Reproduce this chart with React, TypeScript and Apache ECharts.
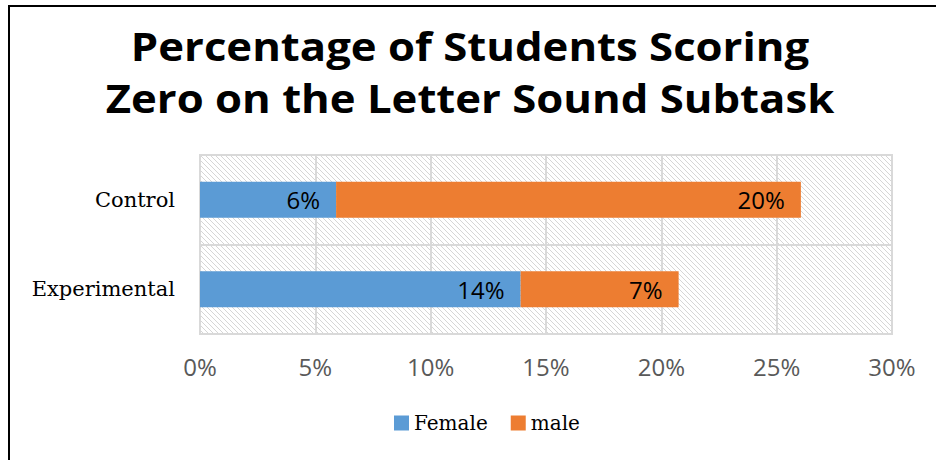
import React, { useEffect, useRef } from "react";
import * as echarts from "echarts";

const categories = ["Experimental", "Control"];
const femaleValues = [13.9, 5.9];
const maleValues = [6.85, 20.15];
const xTicks = { min: 0, max: 30, interval: 5 };
const titleText = "Percentage of Students Scoring\nZero on the Letter Sound Subtask";

const hatch =
  "data:image/svg+xml;utf8," +
  encodeURIComponent(
    "<svg xmlns='http://www.w3.org/2000/svg' width='5' height='5'><path d='M0 0L5 5M-1 4L1 6M4 -1L6 1' stroke='#d6d6d6' stroke-width='1'/></svg>"
  );

export default function App() {
  const ref = useRef<HTMLDivElement>(null);
  useEffect(() => {
    const chart = echarts.init(ref.current!, null, { renderer: "svg" });
    const labelFmt = (p: any) => Math.round(p.value) + "%";
    chart.setOption({
      animation: false,
      backgroundColor: "#ffffff",
      graphic: [
        {
          type: "text",
          x: 470,
          y: 20,
          scaleX: 1.12,
          silent: true,
          style: {
            text: titleText,
            x: 0,
            y: 0,
            align: "center",
            verticalAlign: "top",
            fontFamily: "Open Sans",
            fontWeight: "bold",
            fontSize: 39,
            lineHeight: 52,
            fill: "#000000",
          },
        },
        {
          type: "rect",
          shape: { x: 9, y: 6, width: 1000, height: 1000 },
          style: { fill: "none", stroke: "#000000", lineWidth: 2 },
          silent: true,
          z: 100,
        },
      ],
      legend: {
        left: 389,
        top: 408,
        itemWidth: 15,
        itemHeight: 15,
        itemGap: 23,
        icon: "rect",
        textStyle: { fontFamily: "DejaVu Serif", fontSize: 20, color: "#000000" },
        data: ["Female", "male"],
      },
      grid: {
        left: 200,
        right: 44,
        top: 155,
        bottom: 126,
        show: true,
        backgroundColor: { image: hatch, repeat: "repeat" },
        borderColor: "#d9d9d9",
        borderWidth: 2,
      },
      xAxis: {
        type: "value",
        min: xTicks.min,
        max: xTicks.max,
        interval: xTicks.interval,
        axisLine: { show: false },
        axisTick: { show: false },
        splitLine: { show: true, lineStyle: { color: "#d9d9d9", width: 2 } },
        axisLabel: {
          formatter: "{value}%",
          fontFamily: "Open Sans",
          fontSize: 24,
          color: "#595959",
          margin: 20,
        },
      },
      yAxis: {
        type: "category",
        data: categories,
        axisLine: { show: false },
        axisTick: { show: false },
        splitLine: { show: true, lineStyle: { color: "#d9d9d9", width: 2 } },
        axisLabel: {
          fontFamily: "DejaVu Serif",
          fontSize: 21,
          color: "#000000",
          margin: 25,
        },
      },
      series: [
        {
          name: "Female",
          type: "bar",
          stack: "total",
          data: femaleValues,
          barWidth: "40%",
          itemStyle: { color: "#5b9bd5" },
          label: {
            show: true,
            position: "insideRight",
            distance: 16,
            formatter: labelFmt,
            fontFamily: "Open Sans",
            fontSize: 24,
            color: "#000000",
          },
        },
        {
          name: "male",
          type: "bar",
          stack: "total",
          data: maleValues,
          barWidth: "40%",
          itemStyle: { color: "#ed7d31" },
          label: {
            show: true,
            position: "insideRight",
            distance: 16,
            formatter: labelFmt,
            fontFamily: "Open Sans",
            fontSize: 24,
            color: "#000000",
          },
        },
      ],
    });
    return () => chart.dispose();
  }, []);
  return (
    <div
      ref={ref}
      style={{ position: "fixed", left: 0, top: 0, width: 936, height: 460 }}
    />
  );
}
